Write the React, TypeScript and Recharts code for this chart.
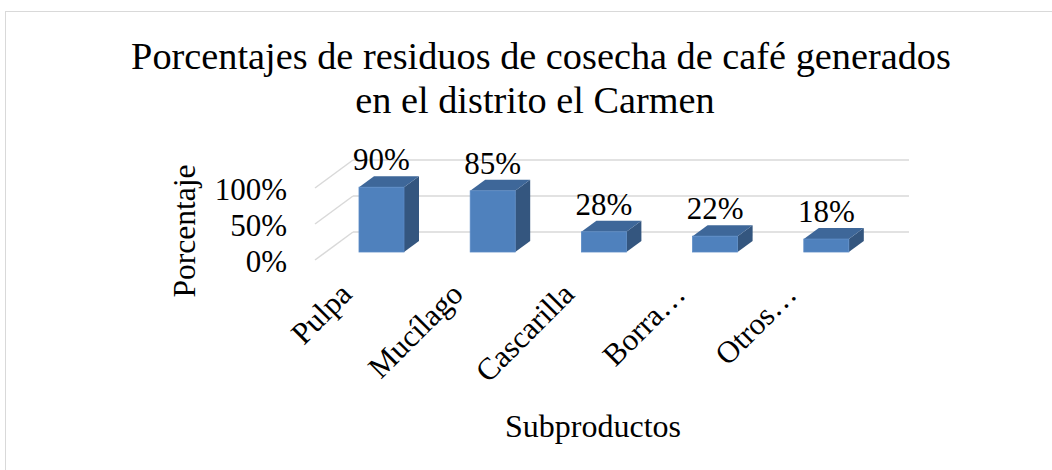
import { BarChart, Bar, XAxis, YAxis, CartesianGrid, LabelList, Label } from "recharts"

const categories = ["Pulpa", "Mucílago", "Cascarilla", "Borra…", "Otros…"]
const percentages = [90, 85, 28, 22, 18]
const yTicks = [0, 50, 100]

const data = categories.map((name, i) => ({ name, value: percentages[i] }))

const FONT = "'Liberation Serif', 'Times New Roman', serif"

// oblique 3D offsets (bar plane -> back wall / front edge)
const BACK_DX = 27
const BACK_DY = -20
const FRONT_DX = -11
const FRONT_DY = 8
const BAR_DX = 15
const BAR_DY = -11

function GridLine(props: any) {
  const { x1, x2, y1 } = props
  return (
    <g>
      <line x1={x1 + BACK_DX} y1={y1 + BACK_DY} x2={x2 + BACK_DX} y2={y1 + BACK_DY} stroke="#d9d9d9" strokeWidth={1.5} />
      <line x1={x1 + FRONT_DX} y1={y1 + FRONT_DY} x2={x1 + BACK_DX} y2={y1 + BACK_DY} stroke="#d9d9d9" strokeWidth={1.5} />
    </g>
  )
}

function Bar3D(props: any) {
  const { x, y, width, height } = props
  const top = `${x},${y} ${x + BAR_DX},${y + BAR_DY} ${x + width + BAR_DX},${y + BAR_DY} ${x + width},${y}`
  const side = `${x + width},${y} ${x + width + BAR_DX},${y + BAR_DY} ${x + width + BAR_DX},${y + height + BAR_DY} ${x + width},${y + height}`
  return (
    <g>
      <polygon points={side} fill="#34567f" />
      <polygon points={top} fill="#3e6799" />
      <rect x={x} y={y} width={width} height={height} fill="#4f81bd" stroke="#5b8bc6" strokeWidth={0.8} />
    </g>
  )
}

function YTick(props: any) {
  const { x, y, payload } = props
  return (
    <text x={x - 39} y={y + 9} textAnchor="end" dominantBaseline="central" fontSize={31} fontFamily={FONT} fill="#000">
      {payload.value}%
    </text>
  )
}

function XTick(props: any) {
  const { x, y, payload } = props
  return (
    <text
      transform={`translate(${x - 28}, ${y + 44}) rotate(-45)`}
      textAnchor="end"
      fontSize={31}
      fontFamily={FONT}
      fill="#000"
    >
      {payload.value}
    </text>
  )
}

export default function App() {
  return (
    <div style={{ position: "fixed", left: 0, top: 0, width: 1052, height: 470, overflow: "hidden", background: "#fff" }}>
      <div
        style={{
          position: "absolute",
          left: 5,
          top: 11,
          width: 1100,
          height: 500,
          border: "1.5px solid #d9d9d9",
        }}
      />
      <svg width={1052} height={470} style={{ position: "absolute", left: 0, top: 0 }}>
        <text x={541} y={69} textAnchor="middle" fontSize={38.3} fontFamily={FONT} fill="#000">
          Porcentajes de residuos de cosecha de café generados
        </text>
        <text x={535} y={113} textAnchor="middle" fontSize={38.3} fontFamily={FONT} fill="#000">
          en el distrito el Carmen
        </text>
      </svg>
      <div style={{ position: "absolute", left: 0, top: 0 }}>
        <BarChart width={1052} height={470} data={data} margin={{ top: 180, right: 170, bottom: 0, left: 0 }}>
          <CartesianGrid vertical={false} horizontal={GridLine} />
          <XAxis
            dataKey="name"
            height={218}
            axisLine={false}
            tickLine={false}
            tickSize={0}
            tickMargin={0}
            interval={0}
            tick={XTick}
          >
            <Label
              content={() => (
                <text x={593} y={437} textAnchor="middle" fontSize={32} fontFamily={FONT} fill="#000">
                  Subproductos
                </text>
              )}
            />
          </XAxis>
          <YAxis
            width={326}
            domain={[0, 100]}
            ticks={yTicks}
            axisLine={false}
            tickLine={false}
            tickSize={0}
            tickMargin={0}
            tick={YTick}
          >
            <Label
              content={() => (
                <text
                  transform="translate(195, 231) rotate(-90)"
                  textAnchor="middle"
                  fontSize={31.5}
                  fontFamily={FONT}
                  fill="#000"
                >
                  Porcentaje
                </text>
              )}
            />
          </YAxis>
          <Bar dataKey="value" barSize={45} shape={Bar3D} isAnimationActive={false}>
            <LabelList
              dataKey="value"
              position="top"
              offset={17}
              formatter={(v: any) => `${v}%`}
              style={{ fontSize: 31, fontFamily: FONT, fill: "#000" }}
            />
          </Bar>
        </BarChart>
      </div>
    </div>
  )
}
